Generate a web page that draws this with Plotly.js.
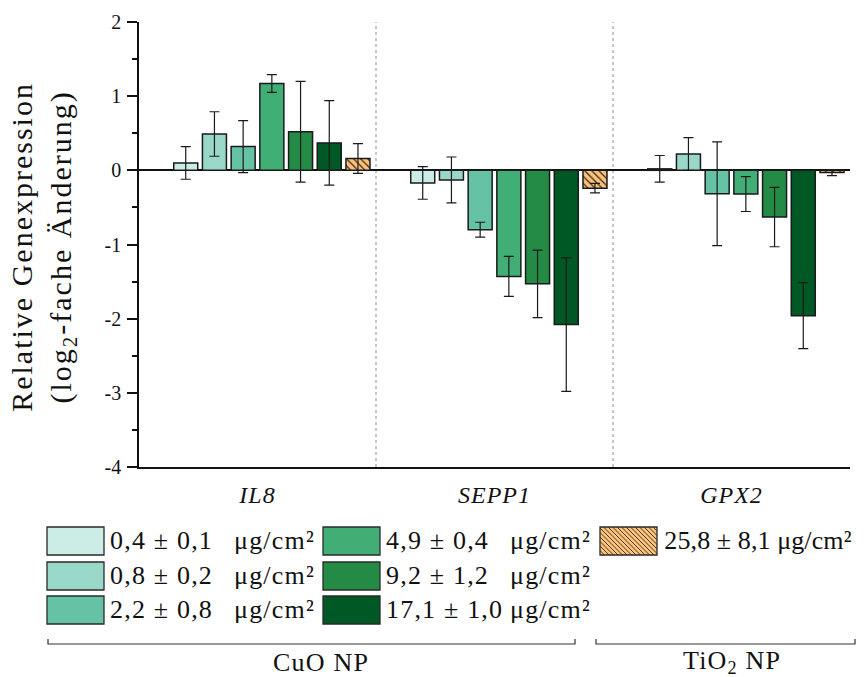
<!DOCTYPE html>
<html>
<head>
<meta charset="utf-8">
<script src="https://cdn.plot.ly/plotly-3.0.1.min.js"></script>
<style>
  html, body { margin: 0; padding: 0; background: #fff; }
  #chart { width: 867px; height: 677px; }
  .annotation-text { letter-spacing: 1.2px; }
  g.annotation[data-index="0"] text { letter-spacing: 2px; }
  g.annotation[data-index="13"] text { letter-spacing: 0.1px; }
  .xtick text { letter-spacing: 1px; }
</style>
</head>
<body>
<div id="chart"></div>
<script>
// ---------------- data ----------------
const genes = ['IL8', 'SEPP1', 'GPX2'];
const controlValues = [0, 0, 0];
const dose04 = [0.10, -0.17, 0.02];   const err04 = [0.22, 0.22, 0.18];
const dose08 = [0.49, -0.13, 0.22];   const err08 = [0.30, 0.31, 0.22];
const dose22 = [0.32, -0.80, -0.315]; const err22 = [0.35, 0.10, 0.70];
const dose49 = [1.17, -1.43, -0.32];  const err49 = [0.12, 0.27, 0.235];
const dose92 = [0.52, -1.53, -0.63];  const err92 = [0.68, 0.455, 0.40];
const dose171 = [0.37, -2.08, -1.96]; const err171 = [0.57, 0.90, 0.445];
const tio2 = [0.16, -0.24, -0.03];    const errTio2 = [0.20, 0.065, 0.04];
const doseLabels = ['0,4 ± 0,1', '0,8 ± 0,2', '2,2 ± 0,8', '4,9 ± 0,4', '9,2 ± 1,2', '17,1 ± 1,0', '25,8 ± 8,1'];
const unitLabel = 'μg/cm²';
const yTickVals = [-4, -3, -2, -1, 0, 1, 2];
const yTickLabels = ['-4', '-3', '-2', '-1', '0', '1', '2'];
const groupLabels = ['CuO NP', 'TiO<sub>2</sub> NP'];

// ---------------- styles ----------------
const colors = ['#ccece6', '#99d8c9', '#66c2a4', '#41ae76', '#238b45', '#005824'];
const hatchBg = '#fbc27e';
const hatchFg = '#3b2a12';
const serif = '"Liberation Serif", "Times New Roman", Times, serif';

const W = 867, H = 677, L = 139, R = 17, T = 22, B = 210;
const PW = W - L - R, PH = H - T - B;
const px = x => (x - L) / PW;
const py = y => (H - B - y) / PH;

const series = [dose04, dose08, dose22, dose49, dose92, dose171];
const errs = [err04, err08, err22, err49, err92, err171];

const errStyle = arr => ({ type: 'data', array: arr, visible: true, color: '#1a1a1a', thickness: 1.2, width: 5 });

const traces = [];
traces.push({
  type: 'bar', x: genes, y: controlValues, name: 'Kontrolle', showlegend: false, hoverinfo: 'skip',
  marker: { color: 'rgba(0,0,0,0)', line: { width: 0 } }
});
series.forEach((s, i) => {
  traces.push({
    type: 'bar', x: genes, y: s, name: doseLabels[i] + ' ' + unitLabel, showlegend: false,
    marker: { color: colors[i], line: { color: '#1a1a1a', width: 1.5 } },
    error_y: errStyle(errs[i])
  });
});
traces.push({
  type: 'bar', x: genes, y: tio2, name: doseLabels[6] + ' ' + unitLabel, showlegend: false,
  marker: {
    color: hatchBg, line: { color: '#1a1a1a', width: 1.5 },
    pattern: { shape: '\\', bgcolor: hatchBg, fgcolor: hatchFg, fillmode: 'replace', size: 5, solidity: 0.25 }
  },
  error_y: errStyle(errTio2)
});

// ---------------- shapes & annotations ----------------
const shapes = [];
const annotations = [];

// y-axis title
annotations.push({
  xref: 'paper', yref: 'paper', x: 0, y: py(247), xshift: -96, xanchor: 'center', yanchor: 'middle',
  textangle: -90, showarrow: false,
  text: 'Relative Genexpression<br>(log<sub>2</sub>-fache Änderung)',
  font: { family: serif, size: 30, color: '#111' }
});

// category separators
[0.5, 1.5].forEach(xv => {
  shapes.push({ type: 'line', xref: 'x', yref: 'paper', x0: xv, x1: xv, y0: 0, y1: 1,
    line: { color: '#b5b5b5', width: 1.5, dash: '3px,3px' }, layer: 'below' });
});

// custom legend
const swW = 57, swH = 28;
const colX = [47, 323, 600];
const rowY = [527, 562, 596];
const unitX = [232, 508, null];
const textShift = [0, 0, -8];
const legendPos = [[0, 0], [0, 1], [0, 2], [1, 0], [1, 1], [1, 2], [2, 0]];
legendPos.forEach((p, i) => {
  const x0 = colX[p[0]], y0 = rowY[p[1]];
  const fill = i < 6 ? colors[i] : hatchBg;
  shapes.push({ type: 'rect', xref: 'paper', yref: 'paper',
    x0: px(x0), x1: px(x0 + swW), y0: py(y0 + swH), y1: py(y0),
    fillcolor: fill, line: { color: '#2a2a2a', width: 1.3 } });
  if (i === 6) {
    for (let a = x0 - swH; a < x0 + swW; a += 4.5) {
      let sx = a, sy = y0, ex = a + swH, ey = y0 + swH;
      if (sx < x0) { sy += (x0 - sx); sx = x0; }
      if (ex > x0 + swW) { ey -= (ex - (x0 + swW)); ex = x0 + swW; }
      if (ex <= sx) continue;
      shapes.push({ type: 'line', xref: 'paper', yref: 'paper',
        x0: px(sx), y0: py(sy), x1: px(ex), y1: py(ey), line: { color: hatchFg, width: 0.9 } });
    }
  }
  const ux = unitX[p[0]];
  annotations.push({ xref: 'paper', yref: 'paper', x: px(x0 + 61), y: py(y0 + swH / 2), yshift: 1,
    xshift: textShift[p[0]],
    xanchor: 'left', yanchor: 'middle', showarrow: false,
    text: ux === null ? doseLabels[i] + ' ' + unitLabel : doseLabels[i],
    font: { family: serif, size: 26, color: '#111' } });
  if (ux !== null) {
    annotations.push({ xref: 'paper', yref: 'paper', x: px(ux), y: py(y0 + swH / 2), yshift: 1,
      xanchor: 'left', yanchor: 'middle', showarrow: false, text: unitLabel,
      font: { family: serif, size: 26, color: '#111' } });
  }
});

// group brackets
const brackets = [[48, 575, 321], [596, 855, 732]];
brackets.forEach((b, i) => {
  shapes.push({ type: 'path', xref: 'paper', yref: 'paper',
    path: `M${px(b[0])},${py(639)} L${px(b[0])},${py(644)} L${px(b[1])},${py(644)} L${px(b[1])},${py(639)}`,
    line: { color: '#333', width: 1.2 } });
  annotations.push({ xref: 'paper', yref: 'paper', x: px(b[2]), y: py(662), xanchor: 'center', yanchor: 'middle',
    showarrow: false, text: groupLabels[i], font: { family: serif, size: 26, color: '#111' } });
});

const layout = {
  width: W, height: H,
  margin: { l: L, r: R, t: T, b: B, pad: 0 },
  paper_bgcolor: '#fff', plot_bgcolor: '#fff',
  barmode: 'group', bargap: 0.031, bargroupgap: 0.164,
  showlegend: false,
  font: { family: serif, color: '#111' },
  xaxis: {
    type: 'category', range: [-0.5, 2.5], showgrid: false, zeroline: false,
    showline: true, linecolor: '#111', linewidth: 1.5, ticks: '',
    tickfont: { family: serif, size: 24, style: 'italic', color: '#111' },
    ticklabelstandoff: 5
  },
  yaxis: {
    range: [-4, 2], tickmode: 'array', tickvals: yTickVals, ticktext: yTickLabels,
    showgrid: false, zeroline: true, zerolinecolor: '#111', zerolinewidth: 1.5,
    showline: true, linecolor: '#111', linewidth: 1.5,
    ticks: 'outside', ticklen: 10, tickwidth: 1.5, tickcolor: '#111',
    minor: { tickmode: 'linear', tick0: -4, dtick: 0.5, ticks: 'outside', ticklen: 5, tickwidth: 1.5, tickcolor: '#111' },
    tickfont: { family: serif, size: 20, color: '#111' },
    ticklabelstandoff: 2
  },
  shapes: shapes,
  annotations: annotations
};

Plotly.newPlot('chart', traces, layout, { displayModeBar: false, responsive: false });
</script>
</body>
</html>
